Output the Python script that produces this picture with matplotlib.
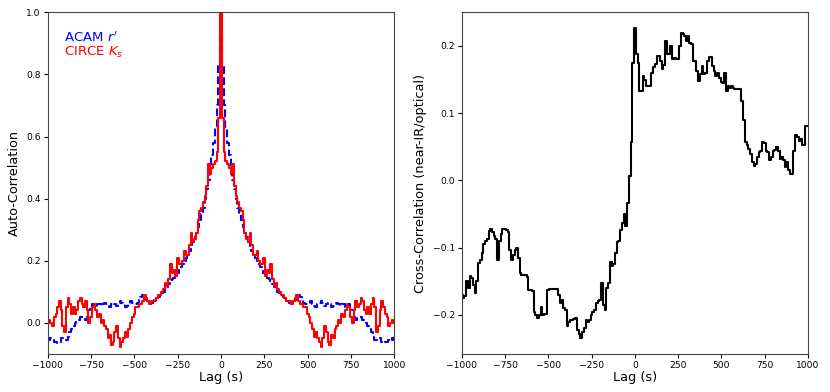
import numpy as np
import matplotlib
matplotlib.use("Agg")
import matplotlib.pyplot as plt

# lag grid (s), 10 s bins
lag_full = np.arange(-1000, 1001, 10)

# auto-correlation for lags 0..1000 s (symmetric about zero lag)
acam_half = [0.93, 0.83, 0.70, 0.63, 0.58, 0.54, 0.50, 0.46, 0.43, 0.40,
             0.37, 0.35, 0.33, 0.31, 0.29, 0.275, 0.26, 0.245, 0.23, 0.22,
             0.21, 0.20, 0.19, 0.18, 0.17, 0.16, 0.15, 0.145, 0.14, 0.13,
             0.125, 0.115, 0.11, 0.10, 0.095, 0.09, 0.085, 0.08, 0.075, 0.07,
             0.065, 0.06, 0.07, 0.075, 0.08, 0.09, 0.085, 0.075, 0.065, 0.06,
             0.06, 0.065, 0.07, 0.06, 0.055, 0.05, 0.06, 0.065, 0.07, 0.065,
             0.055, 0.06, 0.065, 0.06, 0.05, 0.055, 0.06, 0.065, 0.06, 0.055,
             0.06, 0.06, 0.05, 0.055, 0.06, 0.05, 0.04, 0.02, 0.01, 0.015,
             0.02, 0.02, 0.01, 0.005, 0.0, -0.01, -0.02, -0.03, -0.045, -0.055,
             -0.055, -0.05, -0.05, -0.06, -0.065, -0.06, -0.06, -0.055, -0.05, -0.055,
             -0.05]
circe_half = [1.05, 0.66, 0.55, 0.52, 0.51, 0.50, 0.48, 0.51, 0.44, 0.41,
              0.39, 0.37, 0.36, 0.33, 0.29, 0.27, 0.26, 0.29, 0.25, 0.22,
              0.22, 0.23, 0.20, 0.19, 0.19, 0.21, 0.15, 0.17, 0.16, 0.19,
              0.14, 0.12, 0.13, 0.11, 0.10, 0.09, 0.09, 0.08, 0.07, 0.07,
              0.07, 0.06, 0.07, 0.08, 0.09, 0.07, 0.06, 0.06, 0.05, 0.05,
              0.03, 0.02, 0.00, -0.02, -0.045, -0.03, -0.05, -0.06, -0.077, -0.05,
              -0.01, -0.03, -0.06, -0.07, -0.04, -0.05, -0.02, -0.01, 0.01, 0.00,
              0.03, 0.02, 0.04, 0.06, 0.05, 0.02, 0.00, 0.04, 0.07, 0.05,
              0.06, 0.08, 0.07, 0.04, 0.03, 0.05, 0.03, 0.06, 0.08, 0.05,
              -0.03, -0.01, 0.04, 0.07, 0.05, 0.03, 0.02, -0.01, 0.00, 0.01,
              0.00]

# cross-correlation near-IR/optical, lags -1000..1000 s
cross = [-0.170, -0.175, -0.172, -0.150, -0.160, -0.142, -0.145, -0.155, -0.168, -0.150,
         -0.123, -0.118, -0.108, -0.094, -0.090, -0.087, -0.075, -0.072, -0.076, -0.082,
         -0.087, -0.118, -0.090, -0.080, -0.072, -0.072, -0.074, -0.076, -0.104, -0.118,
         -0.111, -0.103, -0.101, -0.115, -0.138, -0.140, -0.140, -0.140, -0.143, -0.163,
         -0.163, -0.165, -0.195, -0.200, -0.205, -0.200, -0.188, -0.200, -0.199, -0.198,
         -0.163, -0.162, -0.162, -0.162, -0.162, -0.162, -0.170, -0.183, -0.178, -0.190,
         -0.192, -0.216, -0.210, -0.207, -0.207, -0.206, -0.205, -0.222, -0.228, -0.235,
         -0.226, -0.220, -0.207, -0.210, -0.208, -0.200, -0.195, -0.192, -0.182, -0.180,
         -0.178, -0.153, -0.185, -0.193, -0.160, -0.153, -0.121, -0.128, -0.124, -0.108,
         -0.091, -0.090, -0.074, -0.064, -0.050, -0.068, -0.034, 0.007, 0.057, 0.175,
         0.227, 0.188, 0.175, 0.133, 0.133, 0.155, 0.150, 0.141, 0.141, 0.141,
         0.160, 0.168, 0.173, 0.185, 0.185, 0.178, 0.165, 0.172, 0.208, 0.188,
         0.188, 0.200, 0.180, 0.182, 0.180, 0.180, 0.200, 0.220, 0.218, 0.215,
         0.207, 0.215, 0.205, 0.203, 0.178, 0.178, 0.163, 0.148, 0.158, 0.170,
         0.158, 0.160, 0.178, 0.183, 0.183, 0.170, 0.163, 0.155, 0.160, 0.153,
         0.146, 0.145, 0.160, 0.133, 0.140, 0.138, 0.141, 0.138, 0.136, 0.136,
         0.136, 0.136, 0.118, 0.090, 0.057, 0.052, 0.047, 0.040, 0.027, 0.022,
         0.024, 0.035, 0.042, 0.044, 0.057, 0.055, 0.044, 0.042, 0.030, 0.035,
         0.044, 0.046, 0.049, 0.044, 0.032, 0.035, 0.030, 0.020, 0.027, 0.015,
         0.010, 0.010, 0.044, 0.067, 0.065, 0.059, 0.062, 0.052, 0.052, 0.081,
         0.081]

acam = np.concatenate([acam_half[:0:-1], acam_half])
circe = np.concatenate([circe_half[:0:-1], circe_half])

fig = plt.figure(figsize=(8.3, 3.92), dpi=100)
ax1 = fig.add_axes([0.0575, 0.097, 0.4176, 0.8717])
ax2 = fig.add_axes([0.5563, 0.097, 0.4173, 0.8717])

ax1.step(lag_full, acam, where='mid', color='blue', ls='--', lw=1.5)
ax1.step(lag_full, circe, where='mid', color='red', lw=1.5)
ax1.set_xlim(-1000, 1000)
ax1.set_ylim(-0.1, 1.0)
ax1.set_xlabel("Lag (s)", fontsize=9.3, labelpad=1)
ax1.set_ylabel("Auto-Correlation", fontsize=9.3, labelpad=4)
ax1.text(0.047, 0.925, "ACAM $r'$", color='blue', fontsize=9.5,
         transform=ax1.transAxes, va='center')
ax1.text(0.047, 0.881, "CIRCE $K_s$", color='red', fontsize=9.5,
         transform=ax1.transAxes, va='center')

ax2.step(lag_full, cross, where='mid', color='black', lw=1.5)
ax2.set_xlim(-1000, 1000)
ax2.set_xlabel("Lag (s)", fontsize=9.3, labelpad=1)
ax2.set_ylabel("Cross-Correlation (near-IR/optical)", fontsize=9.3, labelpad=4)

for ax in (ax1, ax2):
    ax.set_xticks([-1000, -750, -500, -250, 0, 250, 500, 750, 1000])
    ax.tick_params(labelsize=6.6, length=3, width=0.8, pad=2)
    for s in ax.spines.values():
        s.set_linewidth(0.8)
        s.set_color('#444444')

fig.savefig("out.png", dpi=100)
